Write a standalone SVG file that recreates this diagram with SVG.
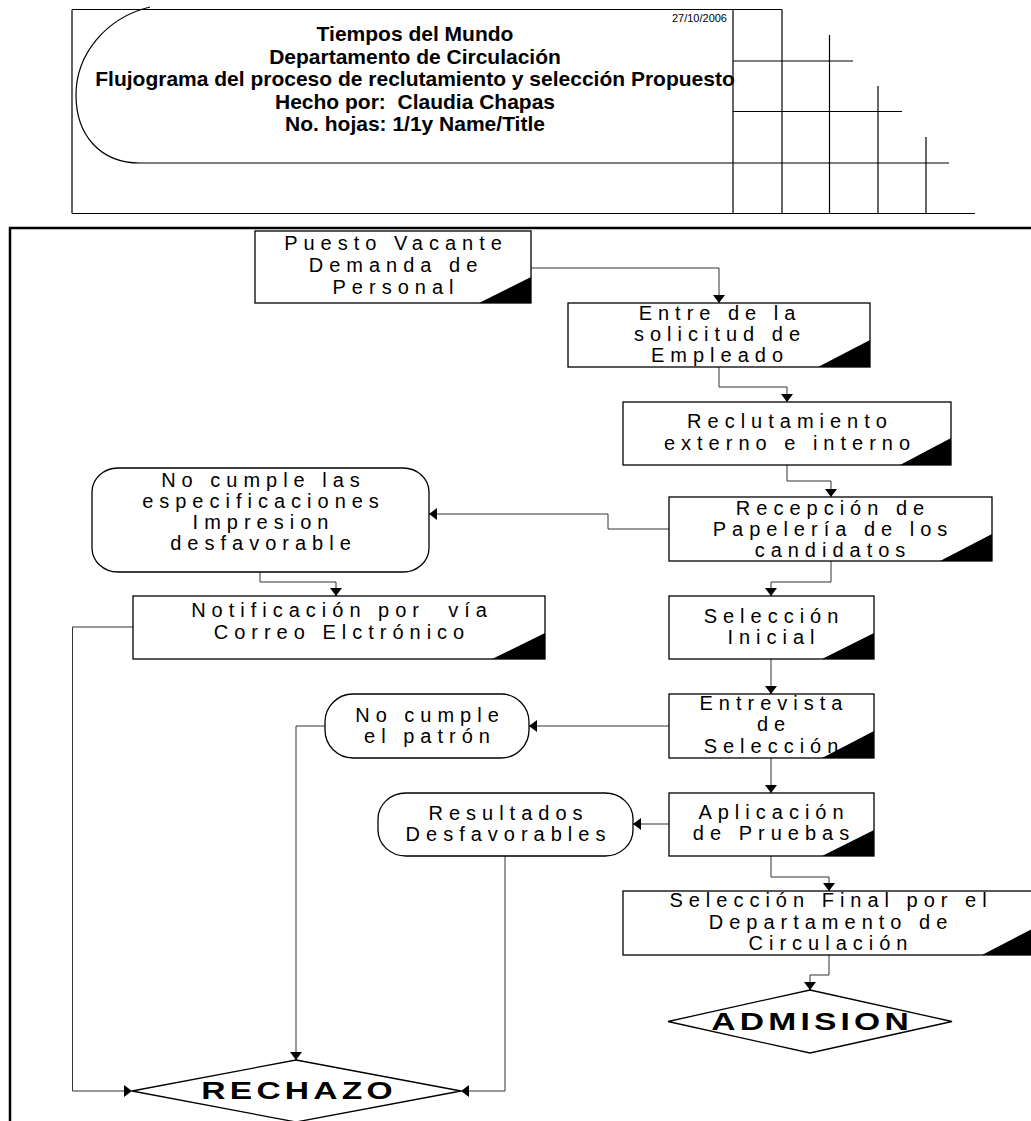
<svg xmlns="http://www.w3.org/2000/svg" width="1031" height="1121" viewBox="0 0 1031 1121">
<style>
.hl{fill:none;stroke:#000;stroke-width:1.2}
.ht{font-family:"Liberation Sans",Arial,sans-serif;font-weight:bold;font-size:21px;text-anchor:middle;fill:#000}
.box{fill:#fff;stroke:#000;stroke-width:1.3}
.tri{fill:#000}
.t{font-family:"Liberation Sans",Arial,sans-serif;font-size:20px;letter-spacing:6px;text-anchor:middle;fill:#000}
.bt{font-family:"Liberation Sans",Arial,sans-serif;font-weight:bold;font-size:24px;letter-spacing:3px;text-anchor:middle;fill:#000}
.c{fill:none;stroke:#333;stroke-width:1}
</style>
<defs>
<marker id="ah" viewBox="0 0 8 12" refX="8" refY="6" markerWidth="8" markerHeight="12" markerUnits="userSpaceOnUse" orient="auto">
<path d="M0,0 L8,6 L0,12 z" fill="#000"/>
</marker>
</defs>
<rect width="1031" height="1121" fill="#fff"/>

<g id="header">
<path class="hl" d="M72,9.5 H782 M72,9.5 V213.5 M72,213.5 H975 M733,9.5 V213.5 M782,9.5 V213.5 M829.5,35 V213.5 M878,86 V213.5 M926,137 V213.5 M733,61 H853 M733,111.5 H902 M140,163 H949"/>
<path class="hl" d="M150,7 C105,18 76,55 76,95 C76,135 100,163 140,163"/>
<text class="ht" x="415" y="41">Tiempos del Mundo</text>
<text class="ht" x="415" y="63.5">Departamento de Circulación</text>
<text class="ht" x="415" y="86">Flujograma del proceso de reclutamiento y selección Propuesto</text>
<text class="ht" x="415" y="108.5" xml:space="preserve">Hecho por:  Claudia Chapas</text>
<text class="ht" x="415" y="131">No. hojas: 1/1y Name/Title</text>
<text x="727" y="22" font-family="Liberation Sans, Arial, sans-serif" font-size="11" text-anchor="end">27/10/2006</text>
</g>

<rect id="frame" x="10" y="228" width="1040" height="920" fill="none" stroke="#000" stroke-width="2.5"/>

<g id="connectors">
<path class="c" marker-end="url(#ah)" d="M531,268 H719 V303"/>
<path class="c" marker-end="url(#ah)" d="M719,367 V387 H787 V402"/>
<path class="c" marker-end="url(#ah)" d="M787,465 V481 H831 V497"/>
<path class="c" marker-end="url(#ah)" d="M669,529 H608 V514 H429"/>
<path class="c" marker-end="url(#ah)" d="M831,561 V582 H771 V596"/>
<path class="c" marker-end="url(#ah)" d="M771,659 V694"/>
<path class="c" marker-end="url(#ah)" d="M669,726 H529"/>
<path class="c" marker-end="url(#ah)" d="M771,758 V793"/>
<path class="c" marker-end="url(#ah)" d="M669,824 H633"/>
<path class="c" marker-end="url(#ah)" d="M771,856 V877 H829 V891"/>
<path class="c" marker-end="url(#ah)" d="M829,955 V975 H810 V990"/>
<path class="c" marker-end="url(#ah)" d="M260,572 V582 H336 V596"/>
<path class="c" marker-end="url(#ah)" d="M133,627 H72.5 V1091 H132"/>
<path class="c" marker-end="url(#ah)" d="M325,726 H296 V1060"/>
<path class="c" marker-end="url(#ah)" d="M505,856 V1091 H461"/>
</g>

<g id="n-puesto">
<rect class="box" x="255" y="231" width="276" height="72"/>
<path class="tri" d="M479,303 H531 V277 z"/>
<text class="t" x="396" y="250">Puesto Vacante</text>
<text class="t" x="396" y="272">Demanda de</text>
<text class="t" x="396" y="293.5">Personal</text>
</g>

<g id="n-entre">
<rect class="box" x="568" y="303" width="302" height="64"/>
<path class="tri" d="M818,367 H870 V340 z"/>
<text class="t" x="720" y="320">Entre de la</text>
<text class="t" x="720" y="341">solicitud de</text>
<text class="t" x="720" y="362">Empleado</text>
</g>

<g id="n-reclut">
<rect class="box" x="623" y="402" width="328" height="63"/>
<path class="tri" d="M900,465 H951 V438 z"/>
<text class="t" x="790" y="428">Reclutamiento</text>
<text class="t" x="790" y="450">externo e interno</text>
</g>

<g id="n-recepcion">
<rect class="box" x="669" y="497" width="323" height="64"/>
<path class="tri" d="M940,561 H992 V534 z"/>
<text class="t" x="833" y="515">Recepción de</text>
<text class="t" x="833" y="536">Papelería de los</text>
<text class="t" x="833" y="557">candidatos</text>
</g>

<g id="n-seleccion-inicial">
<rect class="box" x="669" y="596" width="205" height="63"/>
<path class="tri" d="M822,659 H874 V633 z"/>
<text class="t" x="774" y="622.5">Selección</text>
<text class="t" x="774" y="643.5">Inicial</text>
</g>

<g id="n-entrevista">
<rect class="box" x="669" y="694" width="205" height="64"/>
<path class="tri" d="M822,758 H874 V731 z"/>
<text class="t" x="774" y="710">Entrevista</text>
<text class="t" x="774" y="731">de</text>
<text class="t" x="774" y="752.5">Selección</text>
</g>

<g id="n-aplicacion">
<rect class="box" x="669" y="793" width="205" height="63"/>
<path class="tri" d="M822,856 H874 V830 z"/>
<text class="t" x="774" y="818.5">Aplicación</text>
<text class="t" x="774" y="840">de Pruebas</text>
</g>

<g id="n-seleccion-final">
<rect class="box" x="623" y="891" width="411" height="64"/>
<path class="tri" d="M982,955 H1034 V928 z"/>
<text class="t" x="831" y="907">Selección Final por el</text>
<text class="t" x="831" y="928.5">Departamento de</text>
<text class="t" x="831" y="949.5">Circulación</text>
</g>

<g id="n-admision">
<path class="box" d="M810,990 L952,1021.5 L810,1053 L668,1021.5 z"/>
<text class="bt" x="0" y="1030" transform="translate(810,0) scale(1.4,1) translate(1.5,0)">ADMISION</text>
</g>

<g id="n-rechazo">
<path class="box" d="M296,1060 L461,1091 L296,1122 L132,1091 z"/>
<text class="bt" x="0" y="1099" transform="translate(297,0) scale(1.4,1) translate(1.5,0)">RECHAZO</text>
</g>

<g id="n-nocumple-esp">
<rect class="box" x="92" y="468" width="337" height="104" rx="26" ry="24"/>
<text class="t" x="263.5" y="486.5">No cumple las</text>
<text class="t" x="263.5" y="507.5">especificaciones</text>
<text class="t" x="263.5" y="528.5">Impresion</text>
<text class="t" x="263.5" y="549.5">desfavorable</text>
</g>

<g id="n-notificacion">
<rect class="box" x="133" y="596" width="412" height="63"/>
<path class="tri" d="M492,659 H545 V633 z"/>
<text class="t" x="342" y="617" xml:space="preserve">Notificación por  vía</text>
<text class="t" x="342" y="638.5">Correo Elctrónico</text>
</g>

<g id="n-nocumple-patron">
<rect class="box" x="325" y="694" width="204" height="64" rx="28" ry="28"/>
<text class="t" x="430" y="722">No cumple</text>
<text class="t" x="430" y="743">el patrón</text>
</g>

<g id="n-resultados">
<rect class="box" x="378" y="793" width="255" height="63" rx="28" ry="26"/>
<text class="t" x="508.5" y="820">Resultados</text>
<text class="t" x="508.5" y="841">Desfavorables</text>
</g>
</svg>
